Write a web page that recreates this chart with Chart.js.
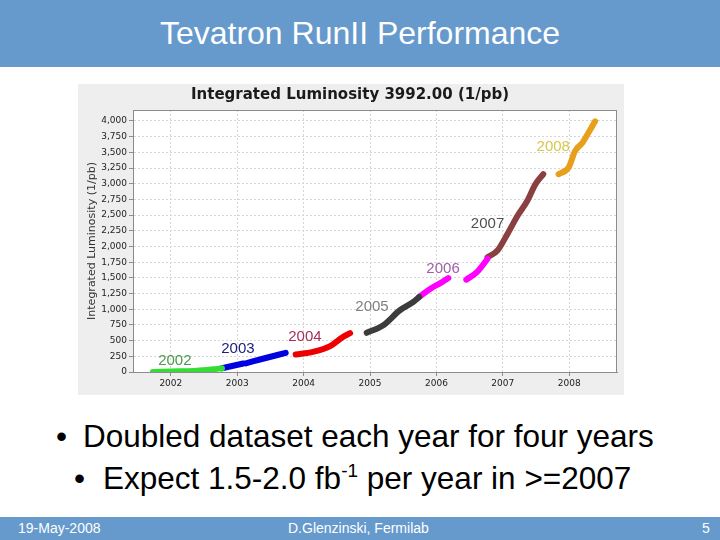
<!DOCTYPE html>
<html>
<head>
<meta charset="utf-8">
<script src="https://cdn.jsdelivr.net/npm/chart.js@4.4.0/dist/chart.umd.min.js"></script>
<style>
  body { margin: 0; width: 720px; height: 540px; position: relative; background: #fff; overflow: hidden;
         font-family: "Liberation Sans", Arial, sans-serif; }
  .band { position: absolute; left: 0; width: 720px; background: #6699cc; color: #fff; }
  #head { top: 0; height: 67px; line-height: 67px; font-size: 32px; text-align: center; }
  #foot { top: 517px; height: 23px; line-height: 23px; font-size: 14px; }
  #foot span { position: absolute; top: 0; }
  #chartBox { position: absolute; left: 78px; top: 84px; width: 546px; height: 311px; }
  .txt { position: absolute; font-size: 31.5px; line-height: 32px; color: #000; white-space: nowrap; }
  sup { font-size: 19px; line-height: 0; vertical-align: 12px; }
</style>
</head>
<body>
<div id="head" class="band">Tevatron RunII Performance</div>
<div id="chartBox"><canvas id="lumi" width="546" height="311"></canvas></div>
<div class="txt" style="left:56px;top:420px">•</div>
<div class="txt" style="left:83px;top:420px">Doubled dataset each year for four years</div>
<div class="txt" style="left:74px;top:462px">•</div>
<div class="txt" style="left:103px;top:462px">Expect 1.5-2.0 fb<sup>-1</sup> per year in &gt;=2007</div>
<div id="foot" class="band">
  <span style="left:18px">19-May-2008</span>
  <span style="left:288px">D.Glenzinski, Fermilab</span>
  <span style="left:702px">5</span>
</div>
<script>
// tick values
const yearTicks = [2002, 2003, 2004, 2005, 2006, 2007, 2008];
const lumiTicks = [0, 250, 500, 750, 1000, 1250, 1500, 1750, 2000, 2250, 2500, 2750, 3000, 3250, 3500, 3750, 4000];

// one curve per fiscal year: time (decimal year) and integrated lumi (1/pb), null = no data
const t2002 = [2001.73, 2002.14, 2002.39, 2002.63, 2002.77];
const l2002 = [0, 11, 21, 43, 59];
const t2003 = [2002.77, 2003.09, 2003.11, 2003.13, 2003.40, 2003.73];
const l2003 = [59, 135, null, 138, 215, 305];
const t2004 = [2003.88, 2004.14, 2004.40, 2004.58, 2004.70];
const l2004 = [280, 322, 413, 550, 620];
const t2005 = [2004.95, 2005.20, 2005.45, 2005.65, 2005.74];
const l2005 = [624, 746, 984, 1116, 1195];
const t2006 = [2005.74, 2005.91, 2006.06, 2006.18, 2006.30, 2006.45, 2006.61, 2006.77];
const l2006 = [1195, 1328, 1417, 1497, null, 1471, 1592, 1804];
const t2007 = [2006.77, 2006.92, 2007.07, 2007.22, 2007.37, 2007.49, 2007.61];
const l2007 = [1830, 1936, 2200, 2487, 2730, 2990, 3153];
const t2008 = [2007.84, 2007.99, 2008.09, 2008.20, 2008.29, 2008.39];
const l2008 = [3153, 3258, 3524, 3655, 3813, 3995];

const seriesNames = ["2002", "2003", "2004", "2005", "2006", "2007", "2008"];
const seriesT = [t2002, t2003, t2004, t2005, t2006, t2007, t2008];
const seriesL = [l2002, l2003, l2004, l2005, l2006, l2007, l2008];

// where each year's label sits, in data units
const labelT = [2002.06, 2003.01, 2004.02, 2005.03, 2006.10, 2006.77, 2007.76];
const labelL = [185, 375, 556, 1032, 1651, 2365, 3587];

const lineColors = ["#33dd33", "#0000e0", "#ee0000", "#3c3c3c", "#ff00ff", "#8a4040", "#e8a01c"];
const labelColors = ["#4a9a4a", "#1c1c80", "#a8305c", "#808080", "#a060a8", "#505050", "#d8c848"];

const datasets = seriesNames.map((name, i) => ({
  label: name,
  data: seriesT[i].map((t, j) => ({ x: t, y: seriesL[i][j] })),
  borderColor: lineColors[i],
  backgroundColor: lineColors[i],
  borderWidth: 6,
  borderCapStyle: "round",
  borderJoinStyle: "round",
  pointRadius: 0,
  cubicInterpolationMode: "monotone",
  spanGaps: false,
  fill: false
}));

const frame = {
  id: "frame",
  beforeDraw(chart) {
    const { ctx, chartArea: a } = chart;
    ctx.save();
    ctx.fillStyle = "#eeeeee";
    ctx.fillRect(0, 0, chart.width, chart.height);
    ctx.fillStyle = "#ffffff";
    ctx.fillRect(a.left, a.top, a.right - a.left, a.bottom - a.top);
    ctx.restore();
  },
  beforeDatasetsDraw(chart) {
    const { ctx, chartArea: a } = chart;
    ctx.save();
    ctx.strokeStyle = "#8c8c8c";
    ctx.lineWidth = 1;
    ctx.strokeRect(a.left + 0.5, a.top + 0.5, a.right - a.left - 1, a.bottom - a.top);
    ctx.restore();
  }
};

const yearLabels = {
  id: "yearLabels",
  afterDatasetsDraw(chart) {
    const { ctx, scales } = chart;
    ctx.save();
    ctx.font = '15px "Liberation Sans", Arial, sans-serif';
    ctx.textAlign = "center";
    ctx.textBaseline = "middle";
    seriesNames.forEach((name, i) => {
      ctx.fillStyle = labelColors[i];
      ctx.fillText(name, scales.x.getPixelForValue(labelT[i]), scales.y.getPixelForValue(labelL[i]));
    });
    ctx.restore();
  }
};

const tickFont = { family: "DejaVu Sans", size: 9 };

new Chart(document.getElementById("lumi"), {
  type: "line",
  data: { datasets },
  plugins: [frame, yearLabels],
  options: {
    responsive: false,
    animation: false,
    layout: { padding: { left: 5, right: 7, top: 0, bottom: 3 } },
    plugins: {
      legend: { display: false },
      tooltip: { enabled: false },
      title: {
        display: true,
        text: "Integrated Luminosity 3992.00 (1/pb)",
        font: { family: "DejaVu Sans", size: 15, weight: "bold" },
        color: "#1a1a1a",
        padding: { top: 2, bottom: 6 }
      }
    },
    scales: {
      x: {
        type: "linear",
        min: 2001.43,
        max: 2008.72,
        afterBuildTicks: (s) => { s.ticks = yearTicks.map((v) => ({ value: v })); },
        afterFit: (s) => { s.height = 20; },
        ticks: { callback: (v) => String(v), font: tickFont, color: "#222", padding: 2, maxRotation: 0, autoSkip: false },
        grid: { color: "#d6d6d6", tickColor: "#8c8c8c", tickLength: 4, tickBorderDash: [] },
        border: { color: "#8c8c8c", dash: [2, 2] }
      },
      y: {
        min: 0,
        max: 4175,
        afterBuildTicks: (s) => { s.ticks = lumiTicks.map((v) => ({ value: v })); },
        afterFit: (s) => { s.width = 50; },
        ticks: { callback: (v) => v.toLocaleString("en-US"), font: tickFont, color: "#222", padding: 2 },
        grid: { color: "#d6d6d6", tickColor: "#8c8c8c", tickLength: 4, tickBorderDash: [] },
        border: { color: "#8c8c8c", dash: [2, 2] },
        title: {
          display: true,
          text: "Integrated Luminosity (1/pb)",
          font: { family: "DejaVu Sans", size: 11 },
          color: "#333",
          padding: { top: 3, bottom: 0 }
        }
      }
    }
  }
});
</script>
</body>
</html>
